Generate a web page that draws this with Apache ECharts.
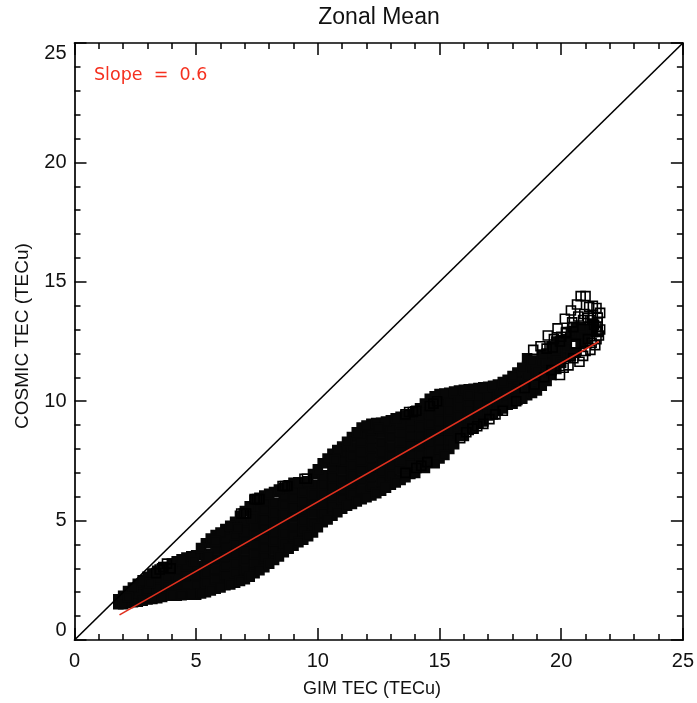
<!DOCTYPE html>
<html>
<head>
<meta charset="utf-8">
<style>html,body{margin:0;padding:0;background:#fff}#c{width:697px;height:703px}</style>
<script src="https://cdn.jsdelivr.net/npm/echarts@6/dist/echarts.min.js"></script>
</head>
<body>
<div id="c"></div>
<script>
// Dense, overplotted part of the cloud
var coreX = [1.8,2.2,2.6,3.0,3.4,3.8,4.2,4.6,5.0,5.4,5.8,6.2,6.6,7.0,7.4,7.8,8.2,8.6,9.0,9.4,9.8,10.2,10.6,11.0,11.4,11.8,12.2,12.6,13.0,13.4,13.8,14.2,14.6,15.0,15.4,15.8,16.2,16.6,17.0,17.4,17.8,18.2,18.6,19.0,19.4,19.8,20.2,20.6,21.0,21.3];
var coreY = [
 [1.5,1.7],
 [1.55,2.05],
 [1.6,2.0,2.35],
 [1.7,2.1,2.65],
 [1.75,2.15,2.55,2.9],
 [1.85,2.25,2.65,3.05],
 [1.85,2.25,2.65,2.95,3.3],
 [1.9,2.3,2.7,3.1,3.45],
 [1.9,2.3,2.7,3.1,3.55],
 [2.0,2.4,2.8,3.2,3.6,4.05],
 [2.15,2.55,2.95,3.35,3.75,4.1,4.4],
 [2.3,2.7,3.1,3.5,3.9,4.3,4.65],
 [2.4,2.8,3.2,3.6,4.0,4.4,4.7,4.95],
 [2.55,2.95,3.35,3.75,4.15,4.55,4.95,5.4],
 [2.8,3.2,3.6,4.0,4.4,4.8,5.2,5.6,5.85],
 [3.05,3.45,3.85,4.25,4.65,5.05,5.45,5.85,6.05],
 [3.35,3.75,4.15,4.55,4.95,5.35,5.75,6.2],
 [3.68,4.05,4.45,4.85,5.25,5.65,6.05,6.37],
 [3.95,4.35,4.75,5.15,5.55,5.95,6.3,6.58],
 [4.2,4.6,5.0,5.4,5.8,6.2,6.6],
 [4.5,4.9,5.3,5.7,6.1,6.5,6.95],
 [4.93,5.3,5.7,6.1,6.5,6.9,7.4],
 [5.2,5.6,6.0,6.4,6.8,7.2,7.5,7.8],
 [5.5,5.9,6.3,6.7,7.1,7.5,7.85,8.1],
 [5.7,6.1,6.5,6.9,7.3,7.7,8.1,8.5],
 [5.9,6.3,6.7,7.1,7.5,7.9,8.3,8.6,8.9],
 [6.05,6.45,6.85,7.25,7.65,8.05,8.45,8.8,9.05],
 [6.25,6.65,7.05,7.45,7.85,8.25,8.65,8.9,9.1],
 [6.5,6.9,7.3,7.7,8.1,8.5,8.9,9.2],
 [6.7,7.1,7.5,7.9,8.3,8.7,9.05,9.35],
 [6.95,7.35,7.75,8.15,8.55,8.95,9.2,9.45],
 [7.35,7.75,8.15,8.55,8.95,9.35,9.7],
 [7.45,7.85,8.25,8.65,9.05,9.45,9.8,10.1],
 [7.6,8.0,8.4,8.8,9.2,9.6,10.0,10.3],
 [8.0,8.4,8.8,9.2,9.6,10.0,10.35],
 [8.55,8.95,9.35,9.75,10.1,10.45],
 [8.8,9.2,9.6,10.0,10.25,10.5],
 [9.1,9.5,9.9,10.25,10.55],
 [9.4,9.8,10.2,10.6],
 [9.6,10.0,10.4,10.7],
 [9.85,10.25,10.6,10.9],
 [10.05,10.45,10.85,11.2],
 [10.25,10.65,11.05,11.45,11.8],
 [10.45,10.85,11.25,11.65],
 [10.85,11.25,11.65,12.0],
 [11.35,11.75,12.15,12.5],
 [11.85,12.25,12.6],
 [12.05,12.7,13.1],
 [12.6,13.0],
 [12.9,13.25]
];
// Outer points between those columns, which round off the cloud's outline
var rimX = [2.0,2.4,2.8,3.2,3.6,4.0,4.4,4.8,5.2,5.6,6.0,6.4,6.8,7.2,7.6,8.0,8.4,8.8,9.2,9.6,10.0,10.4,10.8,11.2,11.6,12.0,12.4,12.8,13.2,13.6,14.0,14.4,14.8,15.2,15.6,16.0,16.4,16.8,17.2,17.6,18.0,18.4,18.8,19.2,19.6,20.0,20.4,20.8];
var rimLow = [1.5,1.58,1.65,1.72,1.8,1.85,1.88,1.9,1.95,2.08,2.2,2.33,2.47,2.65,2.92,3.2,3.5,3.82,4.1,4.35,4.72,5.05,5.35,5.62,5.8,5.98,6.15,6.38,6.6,6.82,7.0,7.2,7.4,7.75,8.2,8.55,8.85,9.15,9.45,9.7,9.9,10.1,10.35,10.65,11.1,11.6,11.9,12.4];
var rimHigh = [1.85,2.2,2.5,2.78,3.0,3.2,3.38,3.5,3.85,4.25,4.5,4.78,5.2,5.6,5.95,6.12,6.3,6.48,6.6,6.65,7.15,7.6,7.95,8.3,8.7,8.98,9.08,9.15,9.28,9.4,9.58,9.9,10.2,10.32,10.4,10.48,10.52,10.58,10.65,10.8,11.05,11.4,11.7,11.95,12.3,12.55,12.9,13.1];
// Further points inside the dense part of the cloud
var innerX = [2.2,3.1,5.8,6.7,7.3,10.7,12.5,16.2,3.9,4.9,5.5];
var innerY = [1.8,2.39,4.15,4.69,5.1,7.54,8.88,10.26,2.9,3.3,3.5];
// Individually visible open squares along the edges of the cloud
var edgeX = [3.35,3.5,3.65,3.8,3.95,6.85,6.95,7.05,7.4,7.5,7.6,8.55,8.65,8.75,9.45,9.55,13.6,13.75,13.9,14.05,14.6,14.75,14.9,14.05,14.25,14.5,13.6,15.85,16.1,16.35,16.55,16.8,17.05,17.3,17.6,18.15,18.85,19.15,19.45,19.65,19.85,20.15,20.4,20.65,20.8,21.0,21.15,21.3,21.45,21.6,21.5,21.35,21.6,21.55,21.4,21.2,20.9,20.75,20.3,19.95,19.6,19.3,18.9,18.5,20.45,20.7,20.95,21.2,21.45,19.95,20.2,20.6,21.1,21.45,21.5,21.3,21.1,20.9,20.5,20.2,20.0,19.7,19.4,20.1,20.5,21.0,21.25,21.45,21.5];
var edgeY = [2.8,2.95,3.05,3.2,3.0,5.3,5.3,5.3,5.9,5.9,5.9,6.45,6.45,6.45,6.75,6.75,9.45,9.55,9.55,9.6,9.8,9.9,10.0,7.2,7.3,7.45,7.0,8.45,8.7,8.85,8.95,9.05,9.25,9.45,9.6,10.0,12.15,12.3,12.75,12.25,13.05,13.45,13.8,14.05,14.4,14.4,13.95,14.0,13.9,13.7,13.5,13.2,13.0,12.75,12.35,12.15,11.9,11.65,11.5,11.1,11.3,11.0,10.7,10.55,13.3,13.55,13.65,13.4,12.95,12.5,12.85,12.4,12.6,13.1,13.3,13.6,13.5,13.4,13.1,12.9,12.7,12.6,12.2,11.4,11.8,12.1,12.45,12.6,12.9];
// Fitted line and one-to-one line
var fitX = [1.85,21.55];
var fitY = [1.05,12.5];
var diagX = [0,25];
var diagY = [0,25];
var titleText = 'Zonal Mean';
var xName = 'GIM TEC (TECu)';
var yName = 'COSMIC TEC (TECu)';
var slopeText = 'Slope  =  0.6';

var corePts = [];
coreX.forEach(function(x,i){coreY[i].forEach(function(y){corePts.push([x,y]);});});
rimX.forEach(function(x,i){corePts.push([x,rimLow[i]]);corePts.push([x,rimHigh[i]]);});
innerX.forEach(function(x,i){corePts.push([x,innerY[i]]);});
var edgePts = edgeX.map(function(x,i){return [x,edgeY[i]];});
var fitPts = fitX.map(function(x,i){return [x,fitY[i]];});
var diagPts = diagX.map(function(x,i){return [x,diagY[i]];});

var FONT = '"Liberation Sans", Arial, sans-serif';
function axis(type,pos,labels){
  return {
    type:'value',position:pos,min:0,max:25,interval:5,
    axisLine:{show:true,onZero:false,lineStyle:{color:'#000',width:1.7}},
    axisTick:{show:true,inside:true,length:12,lineStyle:{color:'#000',width:1.5}},
    minorTick:{show:true,splitNumber:5,length:6,lineStyle:{color:'#000',width:1.5}},
    splitLine:{show:false},minorSplitLine:{show:false},
    axisLabel:labels?(type==='x'
      ?{show:true,color:'#111',fontFamily:FONT,fontSize:20,margin:11}
      :{show:true,color:'#111',fontFamily:FONT,fontSize:20,margin:8,verticalAlignMinLabel:'bottom',verticalAlignMaxLabel:'top'})
      :{show:false}
  };
}
var chart = echarts.init(document.getElementById('c'),null,{renderer:'canvas'});
chart.setOption({
  animation:false,
  backgroundColor:'#fff',
  grid:{left:74.5,right:13.5,top:43,bottom:63,containLabel:false},
  xAxis:[axis('x','bottom',true),axis('x','top',false)],
  yAxis:[axis('y','left',true),axis('y','right',false)],
  graphic:[
    {type:'text',x:379,y:18,style:{text:titleText,fill:'#111',font:'23px '+FONT,textAlign:'center',textVerticalAlign:'middle'}},
    {type:'text',x:372,y:689,style:{text:xName,fill:'#111',font:'18px '+FONT,textAlign:'center',textVerticalAlign:'middle'}},
    {type:'text',x:23,y:336,rotation:Math.PI/2,style:{text:yName,fill:'#111',font:'19px '+FONT,textAlign:'center',textVerticalAlign:'middle'}},
    {type:'text',x:94,y:75,style:{text:slopeText,fill:'#f5301f',font:'17.5px "DejaVu Sans"',textAlign:'left',textVerticalAlign:'middle'}}
  ],
  series:[
    {type:'scatter',name:'core',data:corePts,symbol:'rect',symbolSize:9,silent:true,z:2,
      itemStyle:{color:'#070707',borderColor:'#070707',borderWidth:1.6,opacity:1}},
    {type:'scatter',name:'edge',data:edgePts,symbol:'rect',symbolSize:9,silent:true,z:3,
      itemStyle:{color:'rgba(255,255,255,0)',borderColor:'#000',borderWidth:1.6,opacity:1}},
    {type:'line',name:'one-to-one',data:diagPts,showSymbol:false,silent:true,z:4,
      lineStyle:{color:'#000',width:1.6}},
    {type:'line',name:'fit',data:fitPts,showSymbol:false,silent:true,z:5,
      lineStyle:{color:'#e0301e',width:1.6}}
  ]
});
</script>
</body>
</html>
